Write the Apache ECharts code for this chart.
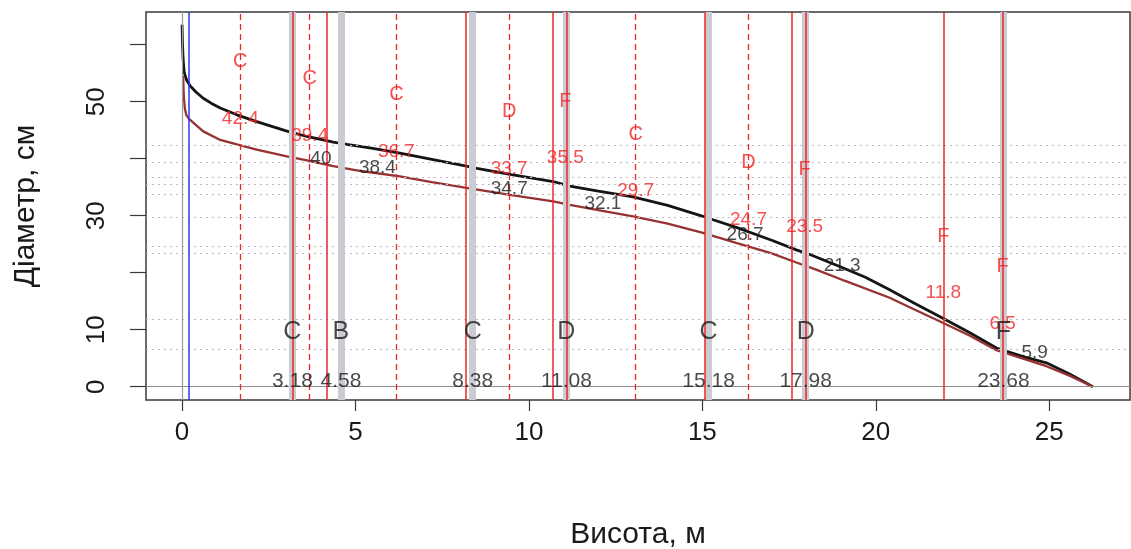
<!DOCTYPE html>
<html>
<head>
<meta charset="utf-8">
<script src="https://cdn.jsdelivr.net/npm/echarts@6/dist/echarts.min.js"></script>
<style>
  html, body { margin: 0; padding: 0; background: #fff; }
  #chart { width: 1131px; height: 549px; }
</style>
</head>
<body>
<div id="chart"></div>
<script>
// Stem profile: height along the stem (m) and diameter (cm), over bark
const overBarkH = [0, 0.01, 0.03, 0.06, 0.13, 0.23, 0.4, 0.61, 0.85, 1.1, 1.58, 2.15, 3.0, 3.6, 4.36, 4.75, 5.5, 6.28, 7.2, 8.2, 8.5, 9.5, 10.7, 11.18, 12.0, 13.0, 14.0, 15.02, 15.31, 16.0, 17.0, 17.71, 18.1, 18.96, 19.7, 20.4, 21.1, 21.84, 22.7, 23.48, 23.77, 24.3, 24.92, 25.6, 26.26];
const overBarkD = [63.5, 60.5, 57.5, 55.2, 53.8, 52.8, 51.7, 50.6, 49.7, 48.9, 47.7, 46.5, 44.9, 43.9, 42.9, 42.5, 41.8, 41.0, 39.9, 38.7, 38.3, 37.2, 36.0, 35.2, 34.3, 33.3, 31.8, 29.9, 29.3, 27.9, 25.7, 24.0, 23.2, 21.1, 19.2, 17.0, 14.7, 12.3, 9.5, 6.8, 6.2, 5.2, 4.2, 2.2, 0];

// Same stem, under bark
const underBarkH = [0.03, 0.05, 0.08, 0.12, 0.2, 0.33, 0.61, 1.1, 1.58, 2.15, 3.02, 3.6, 4.36, 5.2, 6.28, 7.2, 8.2, 9.5, 10.7, 11.18, 12.0, 13.0, 14.0, 15.02, 16.0, 17.0, 17.71, 18.3, 19.1, 20.4, 21.1, 21.84, 22.7, 23.48, 24.2, 24.92, 25.6, 26.26];
const underBarkD = [54.5, 51.0, 48.8, 47.7, 47.0, 46.3, 44.8, 43.3, 42.5, 41.6, 40.4, 39.7, 38.7, 37.8, 36.9, 35.9, 34.9, 33.6, 32.5, 31.9, 31.0, 29.9, 28.6, 27.0, 25.2, 23.4, 21.8, 20.5, 18.6, 15.6, 13.6, 11.5, 9.0, 6.4, 5.0, 3.6, 1.9, 0];

const stumpHeight = 0.18;

// Bucking variant 1 (red): log end heights, log label heights, grades, diameters
const redCuts = [3.18, 4.18, 8.18, 10.68, 11.08, 15.08, 17.58, 17.98, 21.95, 23.66];
const redLogPos = [1.68, 3.68, 6.18, 9.43, 11.05, 13.08, 16.33, 17.95, 21.95, 23.66];
const redGrades = ['C', 'C', 'C', 'D', 'F', 'C', 'D', 'F', 'F', 'F'];
const redDiams = [42.4, 39.4, 36.7, 33.7, 35.5, 29.7, 24.7, 23.5, 11.8, 6.5];

// Bucking variant 2 (grey): cut heights, grades, top diameters under bark
const grayCuts = [3.18, 4.58, 8.38, 11.08, 15.18, 17.98, 23.68];
const grayGrades = ['C', 'B', 'C', 'D', 'C', 'D', 'F'];
const grayDiams = [40, 38.4, 34.7, 32.1, 26.7, 21.3, 5.9];

// Axis ticks
const xTicks = [0, 5, 10, 15, 20, 25];
const yTicks = [0, 10, 20, 30, 40, 50, 60];
const yTickLabels = [0, 10, 30, 50];

const RED = '#f02424';
const FONT = '"Liberation Sans", Arial, sans-serif';

const zip = (a, b) => a.map((v, i) => [v, b[i]]);

function vLines(values, style, z) {
  return {
    type: 'line', data: [], z: z, silent: true,
    markLine: {
      silent: true, symbol: 'none', animation: false,
      label: { show: false }, lineStyle: style,
      emphasis: { disabled: true },
      data: values.map(v => ({ xAxis: v }))
    }
  };
}
function hLines(values, style, z) {
  return {
    type: 'line', data: [], z: z, silent: true,
    markLine: {
      silent: true, symbol: 'none', animation: false,
      label: { show: false }, lineStyle: style,
      emphasis: { disabled: true },
      data: values.map(v => ({ yAxis: v }))
    }
  };
}
function textSeries(items, labelOpt, z) {
  return {
    type: 'scatter', z: z, silent: true, symbolSize: 0,
    itemStyle: { color: 'transparent' },
    label: Object.assign({ show: true, formatter: '{b}', fontFamily: FONT }, labelOpt),
    data: items.map(it => ({ name: it[2], value: [it[0], it[1]] }))
  };
}

const redLetterOffset = 14.6;
const redValueOffset = 4.6;

const series = [
  hLines(redDiams, { color: '#bcbcc6', width: 1, type: [2, 4] }, 1),
  hLines([0], { color: '#8c8c8c', width: 1, type: 'solid' }, 1),
  vLines([0], { color: '#97a092', width: 1.2, type: 'solid' }, 1),
  vLines([stumpHeight], { color: '#2a3bea', width: 1.5, type: 'solid' }, 1),
  {
    type: 'line', z: 2, showSymbol: false, silent: true,
    lineStyle: { color: '#151515', width: 2.8 },
    data: zip(overBarkH, overBarkD)
  },
  {
    type: 'line', z: 2, showSymbol: false, silent: true,
    lineStyle: { color: '#963232', width: 2.3 },
    data: zip(underBarkH, underBarkD)
  },
  vLines(grayCuts, { color: '#cbcbd3', width: 7, type: 'solid' }, 3),
  vLines(redCuts, { color: RED, width: 1.5, type: 'solid' }, 4),
  vLines(redLogPos.filter((p, i) => redGrades[i] !== 'F'), { color: RED, width: 1.3, type: [6, 4] }, 4),
  textSeries(redLogPos.map((p, i) => [p, redDiams[i] + redLetterOffset, redGrades[i]]),
    { position: 'inside', color: RED, fontSize: 20 }, 5),
  textSeries(redLogPos.map((p, i) => [p, redDiams[i] + redValueOffset, String(redDiams[i])]),
    { position: 'inside', color: RED, fontSize: 19 }, 5),
  textSeries(grayCuts.map((c, i) => [c, 9.6, grayGrades[i]]),
    { position: 'inside', color: '#1a1a1a', fontSize: 25 }, 5),
  textSeries(grayCuts.map(c => [c, 0.9, c.toFixed(2)]),
    { position: 'inside', color: '#1a1a1a', fontSize: 21 }, 5),
  textSeries(grayCuts.map((c, i) => [c, grayDiams[i], String(grayDiams[i])]),
    { position: 'right', distance: 18, color: '#1a1a1a', fontSize: 19 }, 5)
];

const chart = echarts.init(document.getElementById('chart'), null, { renderer: 'canvas' });
chart.setOption({
  animation: false,
  backgroundColor: '#ffffff',
  grid: {
    left: 146, right: 1, top: 12, bottom: 149,
    containLabel: false, outerBoundsMode: 'none',
    show: true, borderColor: '#3a3a3a', borderWidth: 1.5, backgroundColor: 'transparent'
  },
  xAxis: {
    type: 'value', min: -1.04, max: 27.33,
    name: 'Висота, м', nameLocation: 'middle', nameGap: 120,
    nameTextStyle: { fontSize: 30, color: '#1a1a1a', fontFamily: FONT },
    axisLine: { show: false, onZero: false },
    splitLine: { show: false },
    axisTick: { show: true, inside: false, length: 11, customValues: xTicks, lineStyle: { color: '#3a3a3a', width: 1.2 } },
    axisLabel: { show: true, customValues: xTicks, margin: 20, fontSize: 26, color: '#1a1a1a', fontFamily: FONT }
  },
  yAxis: {
    type: 'value', min: -2.33, max: 65.74,
    name: 'Діаметр, см', nameLocation: 'middle', nameGap: 105,
    nameTextStyle: { fontSize: 30, color: '#1a1a1a', fontFamily: FONT },
    axisLine: { show: false, onZero: false },
    splitLine: { show: false },
    axisTick: { show: true, inside: false, length: 16, customValues: yTicks, lineStyle: { color: '#3a3a3a', width: 1.2 } },
    axisLabel: { show: true, customValues: yTickLabels, rotate: 90, margin: 36, fontSize: 26, color: '#1a1a1a', fontFamily: FONT }
  },
  series: series
});
</script>
</body>
</html>
